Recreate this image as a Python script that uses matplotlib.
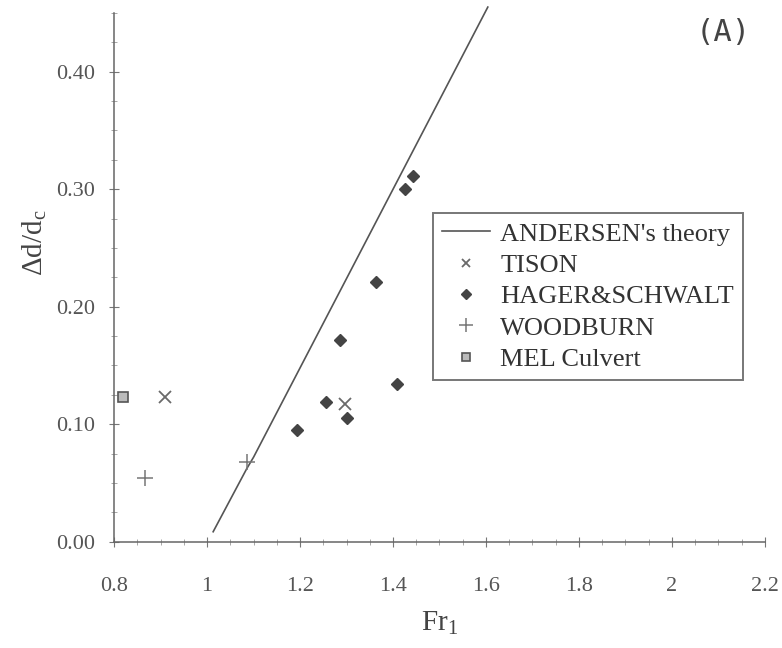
import matplotlib
matplotlib.use('Agg')
import matplotlib.pyplot as plt
from matplotlib.ticker import MultipleLocator, FormatStrFormatter

plt.rcParams.update({
    'font.family': 'Liberation Serif',
    'mathtext.fontset': 'custom',
    'mathtext.rm': 'Liberation Serif',
    'mathtext.it': 'Liberation Serif',
    'font.size': 13,
})

# ANDERSEN's theory curve
theory_fr = [1.013, 1.085, 1.10, 1.604]
theory_dd = [0.0085, 0.062, 0.072, 0.455]

# Measurements
tison_fr = [0.910, 1.297]
tison_dd = [0.123, 0.117]

hager_fr = [1.194, 1.256, 1.301, 1.286, 1.409, 1.363, 1.426, 1.443]
hager_dd = [0.095, 0.119, 0.105, 0.172, 0.134, 0.221, 0.300, 0.311]

woodburn_fr = [0.867, 1.086]
woodburn_dd = [0.054, 0.068]

mel_fr = [0.819]
mel_dd = [0.123]

x_ticks = [0.8, 1.0, 1.2, 1.4, 1.6, 1.8, 2.0, 2.2]
x_tick_labels = ['0.8', '1', '1.2', '1.4', '1.6', '1.8', '2', '2.2']

fig = plt.figure(figsize=(7.82, 6.48), dpi=100)
ax = fig.add_axes([0.146, 0.164, 0.832, 0.816])

ax.plot(theory_fr, theory_dd, color='#555555', lw=1.2, label="ANDERSEN's theory", clip_on=False)
ax.plot(tison_fr, tison_dd, ls='none', marker='x', ms=8, mew=1.3, color='#6a6a6a', label='TISON')
ax.plot(hager_fr, hager_dd, ls='none', marker='D', ms=6.5, color='#444444', label='HAGER&SCHWALT')
ax.plot(woodburn_fr, woodburn_dd, ls='none', marker='+', ms=12, mew=1.1, color='#777777', label='WOODBURN')
ax.plot(mel_fr, mel_dd, ls='none', marker='s', ms=7, mfc='#bbbbbb', mec='#555555', mew=1.2,
        label='MEL Culvert', clip_on=False)

ax.set_xlim(0.8, 2.2)
ax.set_ylim(0.0, 0.45)

ax.set_xticks(x_ticks)
ax.set_xticklabels(x_tick_labels)
ax.xaxis.set_minor_locator(MultipleLocator(0.05))
ax.yaxis.set_major_locator(MultipleLocator(0.1))
ax.yaxis.set_minor_locator(MultipleLocator(0.025))
ax.yaxis.set_major_formatter(FormatStrFormatter('%.2f'))

for side in ['top', 'right']:
    ax.spines[side].set_visible(False)
for side in ['left', 'bottom']:
    ax.spines[side].set_color('#666666')
    ax.spines[side].set_linewidth(1.1)

ax.tick_params(which='major', direction='inout', length=7, width=0.8, colors='#777777',
               labelcolor='#555555', labelsize=16, pad=10)
ax.tick_params(which='minor', direction='inout', length=4, width=0.6, colors='#999999')
ax.tick_params(axis='x', pad=22)

ax.set_xlabel('Fr$_1$', fontsize=21, color='#444444', labelpad=10)
ax.set_ylabel('Δd/d$_c$', fontsize=21, color='#444444', labelpad=12)
ax.yaxis.set_label_coords(-0.1, 0.565)

ax.text(2.11, 0.433, '(A)', family='DejaVu Sans Mono', fontsize=22, color='#444444',
        ha='center', va='center')

leg = ax.legend(loc='upper left', bbox_to_anchor=(0.49, 0.622), borderaxespad=0,
                fancybox=False, frameon=True, edgecolor='#555555', fontsize=19,
                handlelength=1.8, handletextpad=0.4, labelspacing=0.3, borderpad=0.35,
                markerscale=0.8)
leg.get_frame().set_linewidth(1.4)
for t in leg.get_texts():
    t.set_color('#333333')

fig.savefig('out.png', dpi=100)
